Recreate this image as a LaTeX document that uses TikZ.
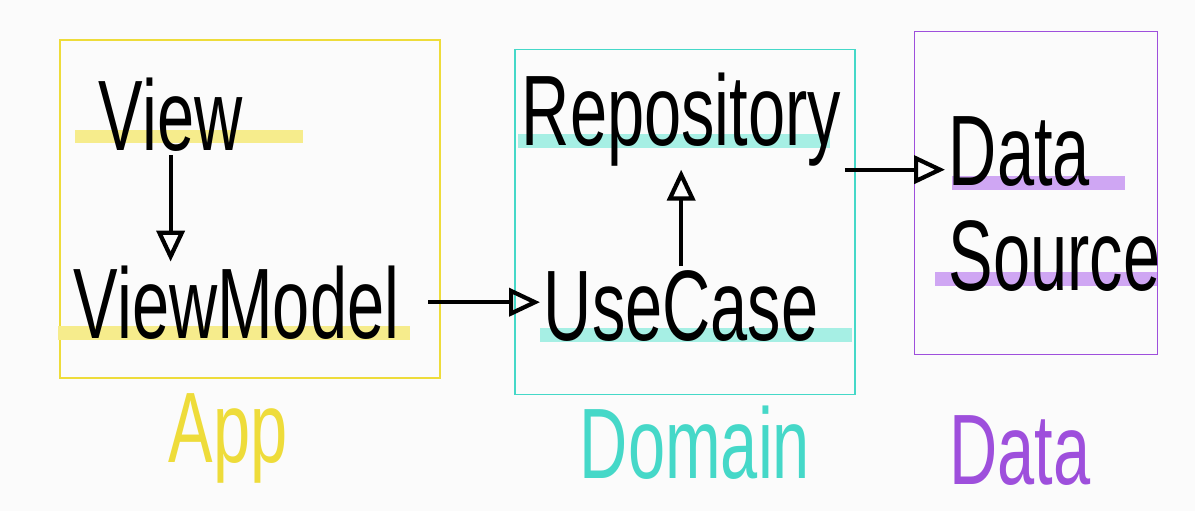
\documentclass[tikz,border=0pt]{standalone}
\usepackage{fontspec}
\setmainfont{Liberation Sans}
\usepackage{graphicx}
\usetikzlibrary{shapes, arrows.meta}
\definecolor{appyellow}{HTML}{EEDC3A}
\definecolor{appbar}{HTML}{F6EC8C}
\definecolor{domteal}{HTML}{45D8C8}
\definecolor{dombar}{HTML}{A6EFE4}
\definecolor{datapurple}{HTML}{9E4FDC}
\definecolor{databar}{HTML}{CFA6F3}
\definecolor{paper}{HTML}{FBFBFB}
\newcommand{\bigfont}{\fontsize{38}{38}\selectfont}
\newcommand{\tallword}[1]{\scalebox{1}[1.5]{#1}}
\tikzstyle{word} = [anchor=base west, inner sep=2pt, font=\bigfont, text=black]
\tikzstyle{layername} = [anchor=base, inner sep=2pt, font=\bigfont]
\tikzstyle{layer} = [rectangle, draw, line width=1pt]
\tikzstyle{line} = [draw, line width=2.4pt, -{Triangle[open, length=0.62cm, width=0.56cm]}]

\begin{document}
\begin{tikzpicture}[x=0.02cm, y=-0.02cm]
            % Page
            \fill[paper] (0,0) rectangle (1195,511);
            \useasboundingbox (0,0) rectangle (1195,511);
            
            % Layer boxes
            \node (appbox) [layer, draw=appyellow, minimum width=7.6cm, minimum height=6.76cm] at (250,209) {};
            \node (dombox) [layer, draw=domteal, minimum width=6.8cm, minimum height=6.9cm] at (685,222) {};
            \node (databox) [layer, draw=datapurple, minimum width=4.86cm, minimum height=6.46cm] at (1036,193) {};
            
            % Marker strokes
            \fill[appbar] (75,130) rectangle (303,143);
            \fill[appbar] (58,326) rectangle (410,340);
            \fill[dombar] (518,134) rectangle (830,148);
            \fill[dombar] (540,328) rectangle (852,342);
            \fill[databar] (952,176) rectangle (1125,190);
            \fill[databar] (935,272) rectangle (1157,286);
            
            % Words
            \node (view) [word] at (95,150) {\tallword{View}};
            \node (viewmodel) [word] at (70,338) {\tallword{ViewModel}};
            \node (repo) [word] at (518,145) {\tallword{Repository}};
            \node (usecase) [word] at (540,340) {\tallword{UseCase}};
            \node (data1) [word] at (945,185) {\tallword{Data}};
            \node (source) [word] at (945,290) {\tallword{Source}};
            
            % Layer names
            \node (appname) [layername, text=appyellow] at (228,462) {\tallword{App}};
            \node (domname) [layername, text=domteal] at (695,478) {\tallword{Domain}};
            \node (dataname) [layername, text=datapurple] at (1020,484) {\tallword{Data}};
            
            % Draw lines
            \path [line] (view.south) -- (view.south |- viewmodel.north);
            \path [line, shorten <=0.5cm] (viewmodel.east) -- (viewmodel.east -| usecase.west);
            \path [line] (usecase.north) -- (usecase.north |- repo.south);
            \path [line] (repo.south east) -- (repo.south east -| data1.west);
\end{tikzpicture}
\end{document}
